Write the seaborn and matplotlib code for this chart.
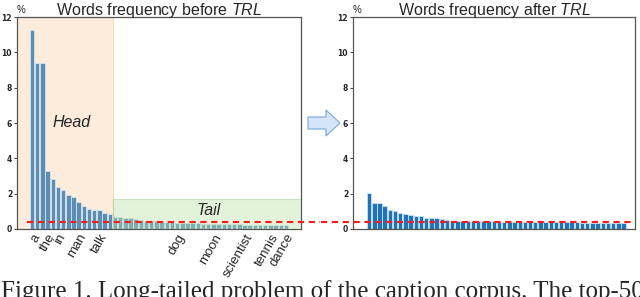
import matplotlib
matplotlib.use("Agg")
import matplotlib.pyplot as plt
import seaborn as sns
import pandas as pd
import numpy as np
from matplotlib.patches import Rectangle, FancyArrow

sns.set_style("white")
plt.rcParams['font.family'] = ['Liberation Sans', 'DejaVu Sans']
plt.rcParams['mathtext.fontset'] = 'custom'
plt.rcParams['mathtext.rm'] = 'Liberation Sans'
plt.rcParams['mathtext.it'] = 'Liberation Sans:italic'

# ---------------- data ----------------
freq_before = [11.25, 9.4, 9.4, 3.3, 2.85, 2.35, 2.2, 1.95, 1.8, 1.55,
               1.3, 1.15, 1.1, 1.05, 0.9, 0.85, 0.7, 0.66, 0.63, 0.6,
               0.56, 0.52, 0.48, 0.46, 0.43, 0.41, 0.39, 0.37, 0.36, 0.35,
               0.34, 0.33, 0.32, 0.31, 0.30, 0.29, 0.29, 0.28, 0.27, 0.27,
               0.26, 0.25, 0.25, 0.24, 0.24, 0.23, 0.23, 0.22, 0.22, 0.21]
freq_after = [2.05, 1.5, 1.45, 1.3, 1.1, 1.0, 0.88, 0.87, 0.78, 0.73,
              0.72, 0.65, 0.6, 0.6, 0.55, 0.5, 0.48, 0.47, 0.46, 0.45,
              0.45, 0.44, 0.44, 0.43, 0.43, 0.42, 0.42, 0.41, 0.41, 0.40,
              0.40, 0.40, 0.39, 0.39, 0.39, 0.38, 0.38, 0.38, 0.37, 0.37,
              0.37, 0.36, 0.36, 0.36, 0.35, 0.35, 0.35, 0.34, 0.34, 0.34]
label_words = ["a", "the", "in", "man", "talk", "dog", "moon", "scientist", "tennis", "dance"]
label_ranks = [0, 3, 5, 9, 13, 28, 35, 41, 46, 49]
n_head = 16
threshold = 0.4
tail_top = 1.7
y_ticks = [0, 2, 4, 6, 8, 10, 12]

rank = list(range(len(freq_before)))
df_before = pd.DataFrame({"rank": rank, "freq": freq_before})
df_after = pd.DataFrame({"rank": rank, "freq": freq_after})

fig = plt.figure(figsize=(6.4, 2.97), dpi=100)
ax1 = fig.add_axes([17/640, 1-229/297, 284/640, 212/297])
ax2 = fig.add_axes([353/640, 1-229/297, 282/640, 212/297])

sns.barplot(data=df_before, x="rank", y="freq", ax=ax1, color="#5b8db5",
            saturation=1, edgecolor="#d8e4ee", linewidth=0.6, width=0.85, zorder=2)
sns.barplot(data=df_after, x="rank", y="freq", ax=ax2, color="#1f73b8",
            saturation=1, edgecolor="#cfe0f0", linewidth=0.6, width=0.85, zorder=2)

for ax in (ax1, ax2):
    ax.set_ylim(0, 12)
    ax.set_yticks(y_ticks)
    ax.set_yticklabels([str(v) for v in y_ticks], fontsize=5.5, fontweight="bold",
                       family="DejaVu Sans")
    ax.tick_params(axis="y", length=2.5, width=0.6, pad=1, left=True)
    ax.set_xlabel("")
    ax.set_ylabel("")
    for s in ax.spines.values():
        s.set_color("#555555")
        s.set_linewidth(0.9)
    ax.text(0.0, 1.01, "%", transform=ax.transAxes, fontsize=7, ha="left", va="bottom")

ax1.set_xlim(-2.9, 51.9)
ax2.set_xlim(-3.1, 51.2)

ax1.set_xticks(label_ranks)
ax1.set_xticklabels(label_words, rotation=60, ha="right", rotation_mode="anchor", fontsize=9.5)
ax1.tick_params(axis="x", length=0, pad=2)
ax2.set_xticks([])

# head / tail regions
split = n_head - 0.3
ax1.add_patch(Rectangle((-2.9, 0), split + 2.9, 12, facecolor="#fde9d6",
                        edgecolor="#f5d9a0", linewidth=0.8, alpha=0.85, zorder=0.5))
ax1.add_patch(Rectangle((split, 0), 51.9 - split, tail_top,
                        facecolor="#b9e0a5", edgecolor="#8cc47a", linewidth=0.8,
                        alpha=0.4, zorder=3))
ax1.text(7.7, 6.05, "Head", fontsize=11.5, style="italic", ha="center", va="center")
ax1.text(34.0, 1.05, "Tail", fontsize=11.5, style="italic", ha="center", va="center", zorder=4)

# threshold lines
ax1.axhline(threshold, xmin=0.035, xmax=1.067, color="#ff1a1a", ls=(0, (3, 2.2)),
            lw=1.5, clip_on=False, zorder=5)
ax2.axhline(threshold, xmin=-0.115, xmax=0.99, color="#ff1a1a", ls=(0, (3, 2.2)),
            lw=1.5, clip_on=False, zorder=5)

ax1.set_title("Words frequency before $\\it{TRL}$", fontsize=11.5, y=1.0, pad=1.2)
ax2.set_title("Words frequency after $\\it{TRL}$", fontsize=11.5, y=1.0, pad=1.2)

# arrow between panels
fig.add_artist(FancyArrow(308/640, 1-123/297, 18/640, 0, width=12/297,
                          head_width=26/297, head_length=14/640,
                          length_includes_head=False, transform=fig.transFigure,
                          facecolor="#d5e5f7", edgecolor="#79a6d8", linewidth=0.8))

# caption (cut off at the bottom edge, as in the source figure)
fig.text(1/640, 1-280/297, "Figure 1. Long-tailed problem of the caption corpus. The top-50",
         fontsize=18, family="Liberation Serif", ha="left", va="top")

fig.savefig("out.png", dpi=100)
